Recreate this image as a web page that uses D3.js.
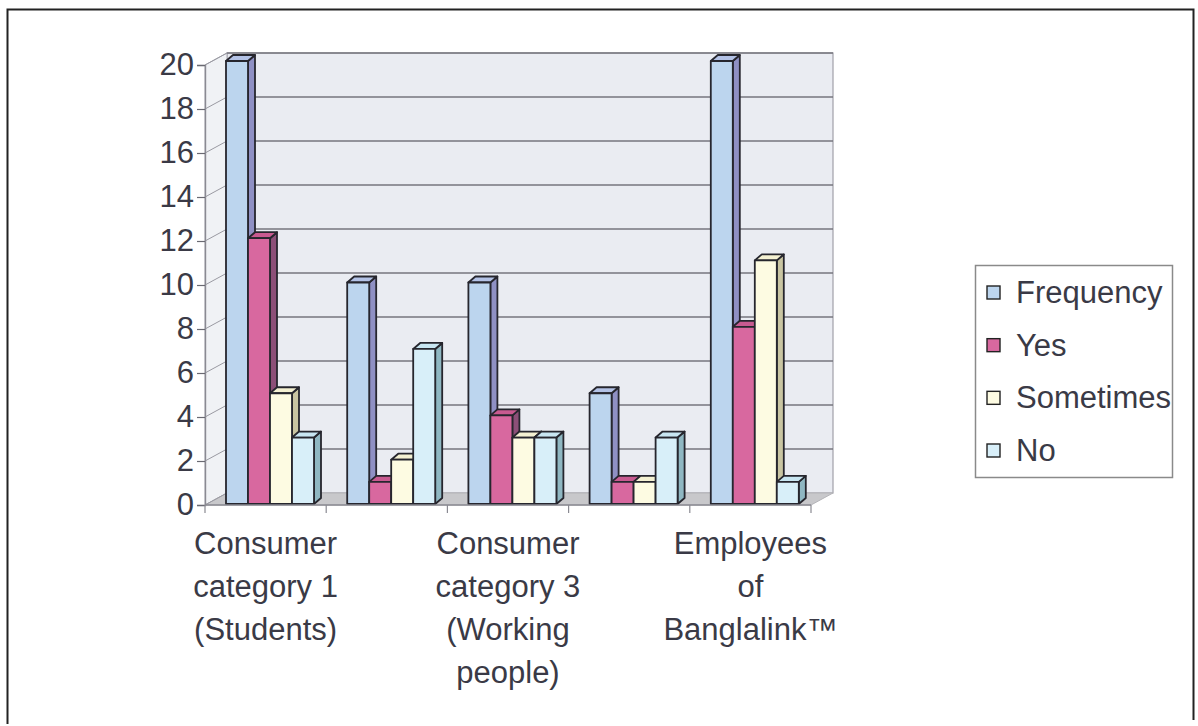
<!DOCTYPE html>
<html>
<head>
<meta charset="utf-8">
<script src="https://cdn.jsdelivr.net/npm/d3@7"></script>
<style>
  html, body { margin: 0; padding: 0; background: #ffffff; }
  svg { display: block; }
  text { font-family: "Liberation Sans", Arial, sans-serif; fill: #3a3a46; }
</style>
</head>
<body>
<svg id="chart" width="1198" height="726"></svg>
<script>
// ---- data ----
const categories = ["Consumer category 1 (Students)", "Consumer category 2", "Consumer category 3 (Working people)", "Consumer category 4", "Employees of Banglalink™"];
const categoryLabelLines = [["Consumer", "category 1", "(Students)"], [], ["Consumer", "category 3", "(Working", "people)"], [], ["Employees", "of", "Banglalink™"]];
const seriesNames = ["Frequency", "Yes", "Sometimes", "No"];
const frequency = [20, 10, 10, 5, 20];
const yes = [12, 1, 4, 1, 8];
const sometimes = [5, 2, 3, 1, 11];
const no = [3, 7, 3, 3, 1];
const yTicks = [0, 2, 4, 6, 8, 10, 12, 14, 16, 18, 20];

const seriesValues = [frequency, yes, sometimes, no];
const faceColors = {
  "Frequency": { front: "#bcd5ee", side: "#8f90c4", top: "#b3c2e6" },
  "Yes":       { front: "#d8689f", side: "#8c4f78", top: "#c85a90" },
  "Sometimes": { front: "#fdfbe2", side: "#c9c5a2", top: "#f4f1d2" },
  "No":        { front: "#d8eff9", side: "#8fb7c2", top: "#c8e6f2" }
};

const svg = d3.select("#chart");

// outer frame
svg.append("path")
  .attr("d", "M7.5,724 L7.5,9.5 L1193.5,9.5 L1193.5,720")
  .attr("fill", "none").attr("stroke", "#222").attr("stroke-width", 2);

// ---- scales ----
const x = d3.scaleBand().domain(categories).range([205, 811]).padding(0);
const inner = d3.scaleBand().domain(seriesNames).range([21, 109]).padding(0);
const yBar = d3.scaleLinear().domain([0, 20]).range([504, 61]);
const yAx = d3.scaleLinear().domain([0, 20]).range([505, 65]);
const wallDX = 22, wallDY = -12;   // depth of walls
const barDX = 7, barDY = -6;       // depth of bars

const x0 = x.range()[0], x1 = x.range()[1];
const yTop = yAx(20), yZero = yAx(0);

// walls
svg.append("rect")
  .attr("x", x0 + wallDX).attr("y", yTop + wallDY)
  .attr("width", x1 - x0).attr("height", yZero - yTop)
  .attr("fill", "#eaecf2").attr("stroke", "#a0a0a8").attr("stroke-width", 1.2);
svg.append("polygon")
  .attr("points", [[x0, yZero], [x0, yTop], [x0 + wallDX, yTop + wallDY], [x0 + wallDX, yZero + wallDY]].join(" "))
  .attr("fill", "#f0f2f5").attr("stroke", "#a8a8b0").attr("stroke-width", 1);
svg.append("polygon")
  .attr("points", [[x0, yZero], [x1, yZero], [x1 + wallDX, yZero + wallDY], [x0 + wallDX, yZero + wallDY]].join(" "))
  .attr("fill", "#c8c8cb").attr("stroke", "#b4b4b8").attr("stroke-width", 1);

// gridlines on back wall + diagonals on side wall
const grid = svg.append("g");
yTicks.filter(v => v > 0).forEach(v => {
  grid.append("line")
    .attr("x1", x0 + wallDX).attr("x2", x1 + wallDX)
    .attr("y1", yAx(v) + wallDY).attr("y2", yAx(v) + wallDY)
    .attr("stroke", "#76767e").attr("stroke-width", 1.6);
});
yTicks.forEach(v => {
  grid.append("line")
    .attr("x1", x0).attr("x2", x0 + wallDX)
    .attr("y1", yAx(v)).attr("y2", yAx(v) + wallDY)
    .attr("stroke", "#9a9aa2").attr("stroke-width", 1);
});

// bars
const bars = svg.append("g");
categories.forEach((cat, ci) => {
  seriesNames.forEach((s, si) => {
    const v = seriesValues[si][ci];
    const bx = x(cat) + inner(s);
    const bw = inner.bandwidth();
    const by = yBar(v), b0 = yBar(0);
    const c = faceColors[s];
    const g = bars.append("g").attr("stroke", "#26262e").attr("stroke-width", 1.8).attr("stroke-linejoin", "round");
    g.append("polygon")
      .attr("points", [[bx + bw, by], [bx + bw + barDX, by + barDY], [bx + bw + barDX, b0 + barDY], [bx + bw, b0]].join(" "))
      .attr("fill", c.side);
    g.append("polygon")
      .attr("points", [[bx, by], [bx + barDX, by + barDY], [bx + bw + barDX, by + barDY], [bx + bw, by]].join(" "))
      .attr("fill", c.top);
    g.append("rect")
      .attr("x", bx).attr("y", by).attr("width", bw).attr("height", b0 - by)
      .attr("fill", c.front);
  });
});

// y axis
const yAxisG = svg.append("g")
  .attr("transform", `translate(${x0},0)`)
  .call(d3.axisLeft(yAx).tickValues(yTicks).tickSize(8).tickPadding(3).tickFormat(d3.format("d")));
yAxisG.select(".domain").attr("stroke", "#8a8a92").attr("stroke-width", 1.4);
yAxisG.selectAll(".tick line").attr("stroke", "#6a6a72").attr("stroke-width", 1.2);
yAxisG.selectAll(".tick text").attr("font-size", 31).attr("font-family", "Liberation Sans, Arial, sans-serif").attr("fill", "#3a3a46");

// x axis (front edge of floor), ticks at category boundaries
const xAxisG = svg.append("g");
xAxisG.append("line").attr("x1", x0).attr("x2", x1).attr("y1", yZero).attr("y2", yZero)
  .attr("stroke", "#8a8a92").attr("stroke-width", 1.4);
const boundaries = categories.map(c => x(c)).concat([x1]);
boundaries.forEach(bx => {
  xAxisG.append("line").attr("x1", bx).attr("x2", bx).attr("y1", yZero).attr("y2", yZero + 8)
    .attr("stroke", "#8a8a92").attr("stroke-width", 1.2);
});
categories.forEach((cat, ci) => {
  const lines = categoryLabelLines[ci];
  if (!lines.length) return;
  const t = xAxisG.append("text")
    .attr("text-anchor", "middle").attr("font-size", 31)
    .attr("x", x(cat) + x.bandwidth() / 2).attr("y", 554);
  lines.forEach((ln, li) => {
    t.append("tspan").attr("x", x(cat) + x.bandwidth() / 2).attr("dy", li === 0 ? 0 : 43).text(ln);
  });
});

// legend
const legend = svg.append("g");
legend.append("rect").attr("x", 975.5).attr("y", 265.5).attr("width", 197).attr("height", 212)
  .attr("fill", "#fff").attr("stroke", "#8a8a8a").attr("stroke-width", 1.5);
const rowY = d3.scalePoint().domain(seriesNames).range([292, 450]);
seriesNames.forEach(s => {
  const cy = rowY(s);
  legend.append("rect").attr("x", 987).attr("y", cy - 6).attr("width", 13).attr("height", 13)
    .attr("fill", faceColors[s].front).attr("stroke", "#222").attr("stroke-width", 1.4);
  legend.append("text").attr("x", 1016).attr("y", cy + 11).attr("font-size", 31).text(s);
});
</script>
</body>
</html>
